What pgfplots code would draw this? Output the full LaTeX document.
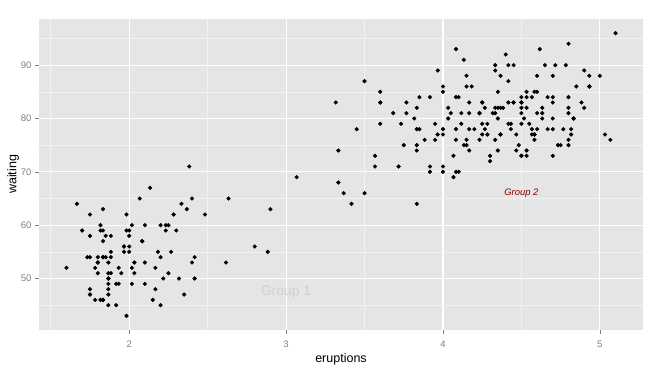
\documentclass[border=0pt]{standalone}
\usepackage{pgfplots}
\pgfplotsset{compat=1.18}
\usepackage{pgfplotstable}
\usepackage{fontspec}
\setmainfont{Liberation Sans}
\definecolor{panelbg}{RGB}{229,229,229}
\definecolor{minorgrid}{RGB}{242,242,242}
\definecolor{ticklab}{RGB}{127,127,127}
\definecolor{grp}{RGB}{139,0,0}
\pgfplotstableread{
x y
3.600 79
1.800 54
3.333 74
2.283 62
4.533 85
2.883 55
4.700 88
3.600 85
1.950 51
4.350 85
1.833 54
3.917 84
4.200 78
1.750 47
4.700 83
2.167 52
1.750 62
4.800 84
1.600 52
4.250 79
1.800 51
1.750 47
3.450 78
3.067 69
4.533 74
3.600 83
1.967 55
4.083 76
3.850 78
4.433 79
4.300 73
4.467 77
3.367 66
4.033 80
3.833 74
2.017 52
1.867 48
4.833 80
1.833 59
4.783 90
4.350 80
1.883 58
4.567 84
1.750 58
4.533 73
3.317 83
3.833 64
2.100 53
4.633 82
2.000 59
4.800 75
4.716 90
1.833 54
4.833 80
1.733 54
4.883 83
3.717 71
1.667 64
4.567 77
4.317 81
2.233 59
4.500 84
1.750 48
4.800 82
1.817 60
4.400 92
4.167 78
4.700 78
2.067 65
4.700 73
4.033 82
1.967 56
4.500 79
4.000 71
1.983 62
5.067 76
2.017 60
4.567 78
3.883 76
3.600 83
4.133 75
4.333 82
4.100 70
2.633 65
4.067 73
4.933 88
3.950 76
4.517 80
2.167 48
4.000 86
2.200 60
4.333 90
1.867 50
4.817 78
1.833 63
4.300 72
4.667 84
3.750 75
1.867 51
4.900 82
2.483 62
4.367 88
2.100 49
4.500 83
4.050 81
1.867 47
4.700 84
1.783 52
4.850 86
3.683 81
4.733 75
2.300 59
4.900 89
4.417 79
1.700 59
4.633 81
2.317 50
4.600 85
1.817 59
4.417 87
2.617 53
4.067 69
4.250 77
1.967 56
4.600 88
3.767 81
1.917 45
4.500 82
2.267 55
4.650 90
1.867 45
4.167 83
2.800 56
4.333 89
1.833 46
4.383 82
1.883 51
4.933 86
2.033 53
3.733 79
4.233 81
2.233 60
4.533 82
4.817 77
4.333 76
1.983 59
4.633 80
2.017 49
5.100 96
1.800 53
5.033 77
4.000 77
2.400 65
4.600 81
3.567 71
4.000 70
4.500 81
4.083 93
1.800 53
3.967 89
2.200 45
4.150 86
2.000 58
3.833 78
3.500 66
4.583 76
2.367 63
5.000 88
1.933 52
4.617 93
1.917 49
2.083 57
4.583 77
3.333 68
4.167 81
4.333 81
4.500 73
2.417 50
4.000 85
4.167 74
1.883 55
4.583 77
4.250 83
3.767 83
2.033 51
4.433 78
4.083 84
1.833 46
4.417 83
2.183 55
4.800 81
1.833 57
4.800 76
4.100 84
3.966 77
4.233 81
3.500 87
4.366 77
2.250 51
4.667 78
2.100 60
4.350 82
4.133 91
1.867 53
4.600 78
1.783 46
4.367 77
3.850 84
1.933 49
4.500 83
2.383 71
4.700 80
1.867 49
3.833 75
3.417 64
4.233 76
2.400 53
4.800 94
2.000 55
4.150 76
1.867 50
4.267 82
1.750 54
4.483 75
4.000 78
4.117 79
4.083 78
4.267 78
3.917 70
4.550 79
4.083 70
2.417 54
4.183 86
2.217 50
4.450 90
1.883 54
1.850 54
4.283 77
3.950 79
2.333 64
4.150 75
2.350 47
4.933 86
2.900 63
4.583 85
3.833 82
2.083 57
4.367 82
2.133 67
4.350 74
2.200 54
4.450 83
3.567 73
4.500 73
4.150 88
3.817 80
3.917 71
4.450 83
2.000 56
4.283 79
4.767 78
4.533 84
1.850 58
4.250 83
1.983 43
2.250 60
4.750 75
4.117 81
2.150 46
4.417 90
1.817 46
4.467 74
}\faithful
\begin{document}
\begin{tikzpicture}[x=1pt,y=1pt]
\useasboundingbox (-39,-44) rectangle (618,330);
\begin{axis}[
  at={(0,0)}, anchor=south west,
  scale only axis, width=604pt, height=311pt,
  xmin=1.425, xmax=5.275, ymin=40.35, ymax=98.65,
  axis background/.style={fill=panelbg},
  axis line style={draw=none},
  xtick={2,3,4,5}, ytick={50,60,70,80,90},
  minor xtick={1.5,2.5,3.5,4.5},
  minor ytick={45,55,65,75,85,95},
  grid=both,
  major grid style={white, line width=1.1pt},
  minor grid style={minorgrid, line width=0.6pt},
  tick align=outside, xtick pos=left, ytick pos=left,
  major tick length=4pt, minor tick length=0pt,
  tick style={ticklab, line width=0.6pt},
  ticklabel style={font=\fontsize{9.5}{11}\selectfont, text=ticklab},
  /pgf/number format/assume math mode=true,
  xticklabel style={yshift=-3pt},
  xlabel={eruptions}, ylabel={waiting},
  label style={font=\fontsize{12.5}{14}\selectfont},
  xlabel style={at={(axis description cs:0.5,0)}, yshift=-20pt, anchor=north},
  ylabel style={yshift=-5pt},
  clip=false,
]
\addplot[only marks, mark=*, mark size=1.9pt, black] table[x=x,y=y] {\faithful};
\node[text={rgb,255:red,208;green,208;blue,208}, font=\fontsize{13.8}{15}\selectfont] at (axis cs:3,47.4) {Group 1};
\node[text=grp, font=\fontsize{9.4}{11}\selectfont\itshape] at (axis cs:4.5,66) {Group 2};
\end{axis}
\end{tikzpicture}
\end{document}
